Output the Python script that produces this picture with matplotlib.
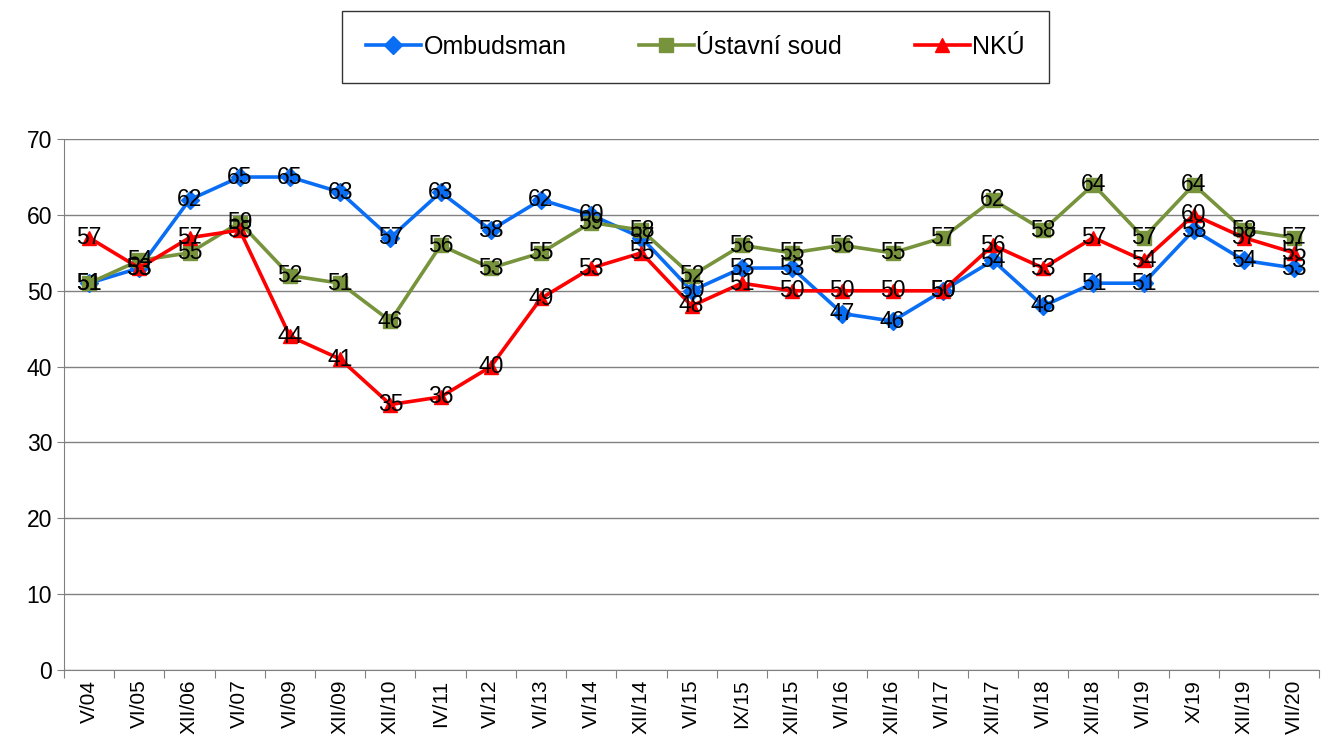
import matplotlib.pyplot as plt
import numpy as np

plt.rcParams['font.family'] = ['Liberation Sans', 'DejaVu Sans']

periods = ['V/04', 'VI/05', 'XII/06', 'VI/07', 'VI/09', 'XII/09', 'XII/10', 'IV/11',
           'VI/12', 'VI/13', 'VI/14', 'XII/14', 'VI/15', 'IX/15', 'XII/15', 'VI/16',
           'XII/16', 'VI/17', 'XII/17', 'VI/18', 'XII/18', 'VI/19', 'X/19', 'XII/19',
           'VII/20']
ombudsman = [51, 53, 62, 65, 65, 63, 57, 63, 58, 62, 60, 57, 50, 53, 53, 47,
             46, 50, 54, 48, 51, 51, 58, 54, 53]
ustavni_soud = [51, 54, 55, 59, 52, 51, 46, 56, 53, 55, 59, 58, 52, 56, 55, 56,
                55, 57, 62, 58, 64, 57, 64, 58, 57]
nku = [57, 53, 57, 58, 44, 41, 35, 36, 40, 49, 53, 55, 48, 51, 50, 50,
       50, 50, 56, 53, 57, 54, 60, 57, 55]

series = [
    ('Ombudsman', ombudsman, '#0A6EF5', 'D', 9),
    ('Ústavní soud', ustavni_soud, '#77933C', 's', 10),
    ('NKÚ', nku, '#FF0000', '^', 10),
]

fig = plt.figure(figsize=(13.22, 7.36), dpi=100)
ax = fig.add_axes([0.0484, 0.0897, 0.9496, 0.7213])

x = np.arange(len(periods))
for name, vals, col, mk, ms in series:
    ax.plot(x, vals, color=col, lw=2.6, marker=mk, markersize=ms,
            markeredgecolor=col, label=name, zorder=3)
for name, vals, col, mk, ms in series:
    for xi, v in zip(x, vals):
        ax.text(xi, v, str(v), ha='center', va='center', fontsize=16.5,
                color='black', zorder=4)

ax.set_xlim(-0.5, len(periods) - 0.5)
ax.set_ylim(0, 70)
ax.set_yticks(range(0, 71, 10))
ax.tick_params(axis='y', labelsize=16.5, length=5, color='#808080')
ax.yaxis.grid(True, color='#808080', lw=1)
ax.set_axisbelow(True)

ax.set_xticks(np.arange(-0.5, len(periods), 1))
ax.set_xticklabels([])
ax.set_xticks(x, minor=True)
ax.set_xticklabels(periods, minor=True, rotation=90, fontsize=15)
ax.tick_params(axis='x', which='major', length=6, color='#808080')
ax.tick_params(axis='x', which='minor', length=0, pad=7)

for s in ['top', 'right']:
    ax.spines[s].set_visible(False)
for s in ['left', 'bottom']:
    ax.spines[s].set_color('#808080')

leg = fig.legend(loc='center', bbox_to_anchor=(0.526, 0.936), ncol=3,
                 fontsize=18, frameon=True, fancybox=False, edgecolor='black',
                 handlelength=2.2, handletextpad=0.1, columnspacing=2.9,
                 borderpad=0.95, markerscale=1.0)
leg.get_frame().set_linewidth(1.0)

fig.savefig('out.png', dpi=100)
